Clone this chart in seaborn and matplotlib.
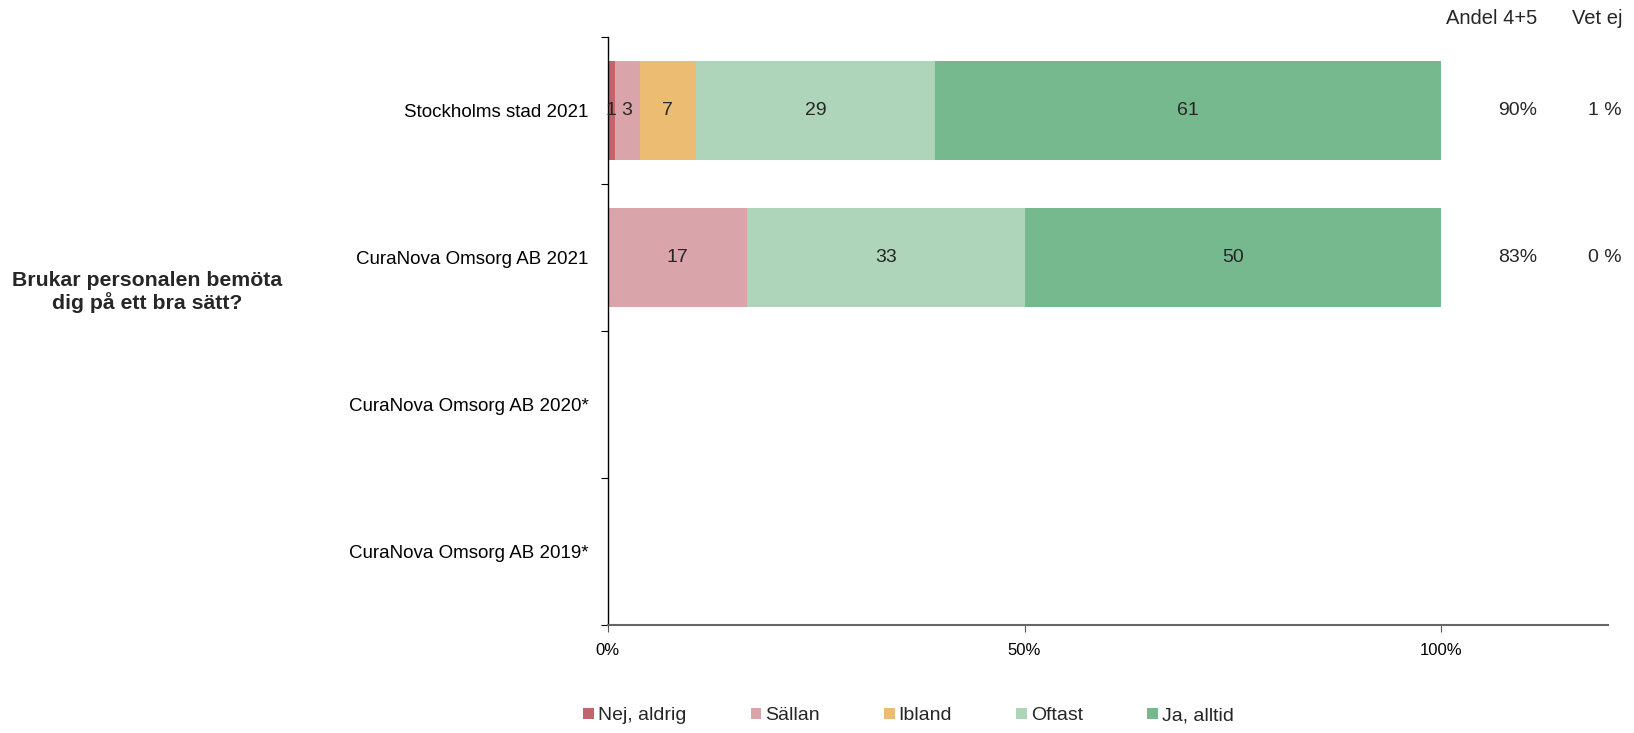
import numpy as np
import pandas as pd
import matplotlib
matplotlib.use("Agg")
import matplotlib.pyplot as plt
import seaborn as sns
from matplotlib.patches import Patch
from matplotlib.ticker import FixedLocator, FuncFormatter

# ---- data ----
categories = ["Stockholms stad 2021", "CuraNova Omsorg AB 2021",
              "CuraNova Omsorg AB 2020*", "CuraNova Omsorg AB 2019*"]
series_names = ["Nej, aldrig", "Sällan", "Ibland", "Oftast", "Ja, alltid"]
nej_aldrig = [0.8, 0.0, 0.0, 0.0]
sallan = [3.0, 16.7, 0.0, 0.0]
ibland = [6.8, 0.0, 0.0, 0.0]
oftast = [28.6, 33.3, 0.0, 0.0]
ja_alltid = [60.8, 50.0, 0.0, 0.0]
andel_45 = ["90%", "83%", "", ""]
vet_ej = ["1 %", "0 %", "", ""]
question = "Brukar personalen bemöta\ndig på ett bra sätt?"
colors = ["#C1646C", "#D9A4AA", "#ECBC72", "#AED5BA", "#76B98F"]

sns.set_theme(style="white")
plt.rcParams["font.family"] = ["Liberation Sans", "DejaVu Sans"]

fig = plt.figure(figsize=(16.34, 7.33), dpi=100)
ax = fig.add_axes([0.372, 0.147, 0.612, 0.803])

series = [nej_aldrig, sallan, ibland, oftast, ja_alltid]
df = pd.DataFrame({name: vals for name, vals in zip(series_names, series)})
df["cat"] = categories
cum = df[series_names].cumsum(axis=1)

# draw cumulative layers from largest to smallest (stacked look)
for name, col in reversed(list(zip(series_names, colors))):
    sns.barplot(x=cum[name], y=df["cat"], order=categories, orient="h",
                color=col, saturation=1, width=0.67, linewidth=0, ax=ax)

# segment labels
for i in range(len(categories)):
    left = 0.0
    for name in series_names:
        v = df.loc[i, name]
        if v > 0:
            ax.text(left + v / 2, i, f"{int(round(v))}", ha="center", va="center",
                    fontsize=14, color="#262626")
        left += v

ax.set_xlim(0, 120)
ax.set_ylim(3.5, -0.5)
ax.set_xlabel("")
ax.set_ylabel("")

ax.xaxis.set_major_locator(FixedLocator([0, 50, 100]))
ax.xaxis.set_major_formatter(FuncFormatter(lambda v, p: f"{int(v)}%"))
ax.tick_params(axis="x", which="major", length=5, width=0.8, color="#555555",
               labelsize=12, pad=8, bottom=True, direction="out")
ax.tick_params(axis="y", which="major", length=0, labelsize=13.5, pad=14)
ax.yaxis.set_minor_locator(FixedLocator([-0.5, 0.5, 1.5, 2.5, 3.5]))
ax.tick_params(axis="y", which="minor", length=5, width=0.8, color="black", left=True)
for lab in ax.get_yticklabels() + ax.get_xticklabels():
    lab.set_color("black")

for s in ["top", "right"]:
    ax.spines[s].set_visible(False)
ax.spines["left"].set_color("black")
ax.spines["left"].set_linewidth(1.0)
ax.spines["bottom"].set_color("#666666")
ax.spines["bottom"].set_linewidth(1.5)

# right-side columns
x_andel = 1537 / 1634
x_vet = 1622 / 1634
fig.text(x_andel, 1 - 18 / 733, "Andel 4+5", ha="right", va="center", fontsize=14.5)
fig.text(x_vet, 1 - 18 / 733, "Vet ej", ha="right", va="center", fontsize=14.5)
for i in range(len(categories)):
    ydisp = ax.transData.transform((0, i))[1]
    yfig = fig.transFigure.inverted().transform((0, ydisp))[1]
    if andel_45[i]:
        fig.text(x_andel, yfig, andel_45[i], ha="right", va="center", fontsize=14)
    if vet_ej[i]:
        fig.text(x_vet, yfig, vet_ej[i], ha="right", va="center", fontsize=14)

# question label
fig.text(147 / 1634, 1 - 292 / 733, question, ha="center", va="center",
         fontsize=15.3, fontweight="bold", linespacing=1.15)

handles = [Patch(facecolor=c, edgecolor="none", label=n) for n, c in zip(series_names, colors)]
fig.legend(handles=handles, loc="center", bbox_to_anchor=(0.556, 1 - 716 / 733),
           ncol=5, frameon=False, fontsize=14, handlelength=0.55, handleheight=0.55,
           handletextpad=0.2, columnspacing=3.3)

fig.savefig("out.png", dpi=100)
